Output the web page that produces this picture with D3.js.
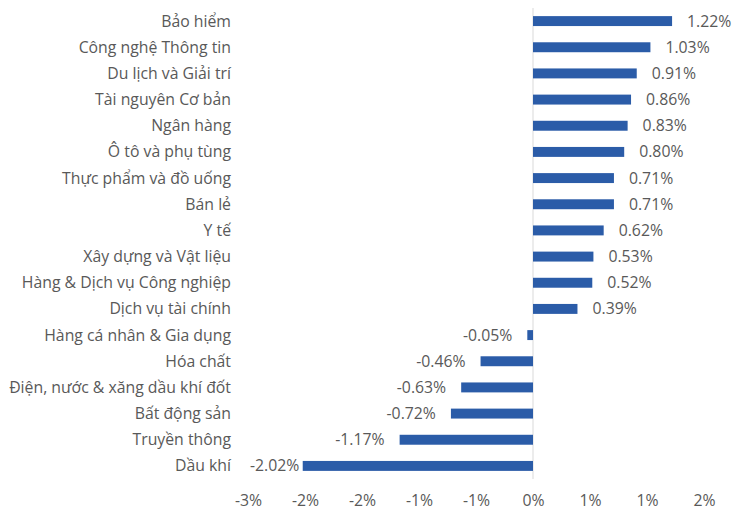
<!DOCTYPE html>
<html>
<head>
<meta charset="utf-8">
<script src="https://cdn.jsdelivr.net/npm/d3@7"></script>
<style>
  body { margin: 0; background: #fff; }
  text { font-family: "Open Sans", sans-serif; fill: #595959; }
</style>
</head>
<body>
<div id="chart"></div>
<script>
// categories top to bottom
const categories = [
  "Bảo hiểm", "Công nghệ Thông tin", "Du lịch và Giải trí", "Tài nguyên Cơ bản",
  "Ngân hàng", "Ô tô và phụ tùng", "Thực phẩm và đồ uống", "Bán lẻ", "Y tế",
  "Xây dựng và Vật liệu", "Hàng & Dịch vụ Công nghiệp", "Dịch vụ tài chính",
  "Hàng cá nhân & Gia dụng", "Hóa chất", "Điện, nước & xăng dầu khí đốt",
  "Bất động sản", "Truyền thông", "Dầu khí"
];
const values = [1.22, 1.03, 0.91, 0.86, 0.83, 0.80, 0.71, 0.71, 0.62, 0.53, 0.52, 0.39,
  -0.05, -0.46, -0.63, -0.72, -1.17, -2.02];
const tickValues = [-2.5, -2.0, -1.5, -1.0, -0.5, 0, 0.5, 1.0, 1.5];
const tickLabels = ["-3%", "-2%", "-2%", "-1%", "-1%", "0%", "1%", "1%", "2%"];

const width = 732, height = 510;
const margin = {top: 8, right: 28, bottom: 31, left: 248};
const fontSize = "15.8px";

const svg = d3.select("#chart").append("svg")
  .attr("width", width)
  .attr("height", height);

const data = categories.map((c, i) => ({cat: c, value: values[i]}));

const x = d3.scaleLinear()
  .domain([-2.5, 1.5])
  .range([margin.left, width - margin.right]);

const y = d3.scaleBand()
  .domain(categories)
  .range([margin.top, height - margin.bottom])
  .paddingInner(0.62)
  .paddingOuter(0.31);

// zero line
svg.append("line")
  .attr("x1", x(0)).attr("x2", x(0))
  .attr("y1", margin.top).attr("y2", height - margin.bottom)
  .attr("stroke", "#d9d9d9")
  .attr("stroke-width", 1);

// bars
svg.selectAll("rect.bar")
  .data(data)
  .enter()
  .append("rect")
    .attr("class", "bar")
    .attr("x", d => x(Math.min(0, d.value)))
    .attr("y", d => y(d.cat))
    .attr("width", d => Math.abs(x(d.value) - x(0)))
    .attr("height", y.bandwidth())
    .style("fill", "#2b5ca8");

// value labels (hyphen minus, like the source)
const fmt = d => (d < 0 ? "-" : "") + Math.abs(d).toFixed(2) + "%";
svg.selectAll("text.val")
  .data(data)
  .enter()
  .append("text")
    .attr("class", "val")
    .attr("y", d => y(d.cat) + y.bandwidth() / 2)
    .attr("dy", "0.35em")
    .style("font-size", fontSize)
    .text(d => fmt(d.value))
    .each(function(d) {
      const t = d3.select(this);
      if (d.value >= 0) {
        t.attr("x", x(d.value) + 15).attr("text-anchor", "start");
      } else {
        // keep label inside the plot on the left
        const w = this.getComputedTextLength();
        const end = Math.max(x(d.value) - 15, 250 + w);
        t.attr("x", end).attr("text-anchor", "end");
      }
    });

// category labels
svg.selectAll("text.cat")
  .data(data)
  .enter()
  .append("text")
    .attr("class", "cat")
    .attr("x", 231)
    .attr("y", d => y(d.cat) + y.bandwidth() / 2)
    .attr("dy", "0.35em")
    .attr("text-anchor", "end")
    .style("font-size", fontSize)
    .text(d => d.cat);

// x axis
const xAxis = d3.axisBottom(x)
  .tickValues(tickValues)
  .tickSize(0)
  .tickFormat((d, i) => tickLabels[i]);

const gx = svg.append("g")
  .attr("transform", "translate(0," + (height - margin.bottom) + ")")
  .call(xAxis);
gx.select(".domain").remove();
gx.selectAll("text")
  .attr("y", 21)
  .attr("dy", "0.35em")
  .style("font-size", fontSize)
  .style("font-family", "'Open Sans', sans-serif")
  .attr("fill", "#595959");
</script>
</body>
</html>
